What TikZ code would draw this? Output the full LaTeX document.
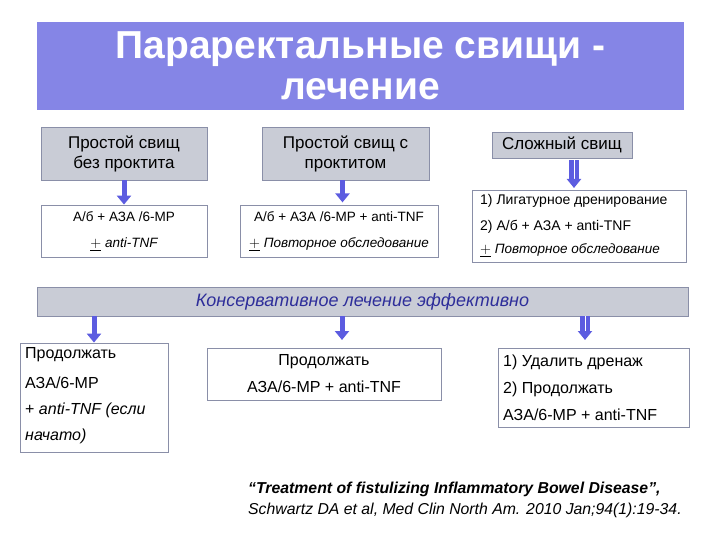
\documentclass[tikz,border=0pt]{standalone}
\usepackage{fontspec}
\setmainfont{Liberation Sans}
\usetikzlibrary{arrows.meta}
\definecolor{ttl}{HTML}{8585E6}
\definecolor{gbox}{HTML}{C9CCD6}
\definecolor{gline}{HTML}{8A8FA8}
\definecolor{arr}{HTML}{5C5CE0}
\definecolor{ital}{HTML}{2E2E9A}
\tikzset{
  gb/.style={draw=gline,fill=gbox,line width=0.8pt,align=center,font=\fontsize{17}{20}\selectfont,inner sep=0pt},
  wb/.style={draw=gline,fill=white,line width=0.8pt,inner sep=0pt},
  tx/.style={font=\fontsize{13.5}{15}\selectfont,inner sep=0pt},
  tl/.style={font=\fontsize{16}{18}\selectfont,inner sep=0pt},
  fa/.style={draw=arr,line width=5pt,-{Triangle[width=14pt,length=9pt]}},
  da/.style={draw=arr,line width=4.5pt,double=white,double distance=1pt,-{Triangle[width=14pt,length=9pt]}},
}
\begin{document}
\begin{tikzpicture}[x=1pt,y=-1pt]
\useasboundingbox (0,0) rectangle (720,540);
\node[fill=ttl,minimum width=647,minimum height=88,inner sep=0pt,align=center,text=white,font=\fontsize{39}{41}\selectfont\bfseries] (title) at (360.5,66) {Параректальные свищи -\\лечение};
\node[gb,minimum width=166,minimum height=53] (a1) at (124,153.5) {Простой свищ\\без проктита};
\node[gb,minimum width=167,minimum height=53] (a2) at (345.5,153.5) {Простой свищ с\\проктитом};
\node[gb,minimum width=140,minimum height=26] (a3) at (562,145) {Сложный свищ};
\node[wb,minimum width=166,minimum height=52] (b1) at (124,231) {};
\node[tx] at (124,217) {А/б + АЗА /6-MP};
\node[tx] at (124,244) {$\underline{+}$ \itshape anti-TNF};
\node[wb,minimum width=198,minimum height=52] (b2) at (339,231) {};
\node[tx] at (339,217) {А/б + АЗА /6-MP + anti-TNF};
\node[tx] at (339,244) {$\underline{+}$ \itshape Повторное обследование};
\node[wb,minimum width=214,minimum height=72] (b3) at (579,226) {};
\node[tx,anchor=west,font=\fontsize{14}{15}\selectfont] at (480,201) {1) Лигатурное дренирование};
\node[tx,anchor=west,font=\fontsize{14}{15}\selectfont] at (480,227) {2) А/б + АЗА + anti-TNF};
\node[tx,anchor=west] at (480,250) {$\underline{+}$ \itshape Повторное обследование};
\draw[fa] (a1.south) -- (b1.north);
\draw[fa] (a2.south) ++(-3,0) -- ++(0,22);
\draw[da] (a3.south) ++(12,2) coordinate (c3) -- (574,188);
\node[gb,minimum width=651,minimum height=29,font=\fontsize{18}{20}\selectfont\itshape,text=ital] (bar) at (362.5,301.5) {Консервативное лечение эффективно};
\node[wb,minimum width=148,minimum height=109] (d1) at (94,397.5) {};
\node[tl,anchor=west] at (25,355) {Продолжать};
\node[tl,anchor=west] at (25,383) {АЗА/6-MP};
\node[tl,anchor=west] at (25,410) {+ \itshape anti-TNF (если};
\node[tl,anchor=west] at (25,436) {\itshape начато)};
\node[wb,minimum width=234,minimum height=52] (d2) at (324,374) {};
\node[tl] at (324,362) {Продолжать};
\node[tl] at (324,387) {АЗА/6-MP + anti-TNF};
\node[wb,minimum width=191,minimum height=79] (d3) at (593.5,387.5) {};
\node[tl,anchor=west] at (503,362) {1) Удалить дренаж};
\node[tl,anchor=west] at (503,389) {2) Продолжать};
\node[tl,anchor=west] at (503,415) {АЗА/6-MP + anti-TNF};
\draw[fa] (94,316) -- (d1.north -| 94,0);
\draw[fa] (342,316) -- (342,340);
\draw[da] (585,316) -- (585,340);
\node[tx,anchor=west,font=\fontsize{15.8}{17}\selectfont\bfseries\itshape] (cit1) at (248,489) {“Treatment of fistulizing Inflammatory Bowel Disease”,};
\node[tx,anchor=west,font=\fontsize{15.8}{17}\selectfont\itshape] (cit2) at (248,510) {Schwartz DA et al, Med Clin North Am. 2010 Jan;94(1):19-34.};
\end{tikzpicture}
\end{document}
